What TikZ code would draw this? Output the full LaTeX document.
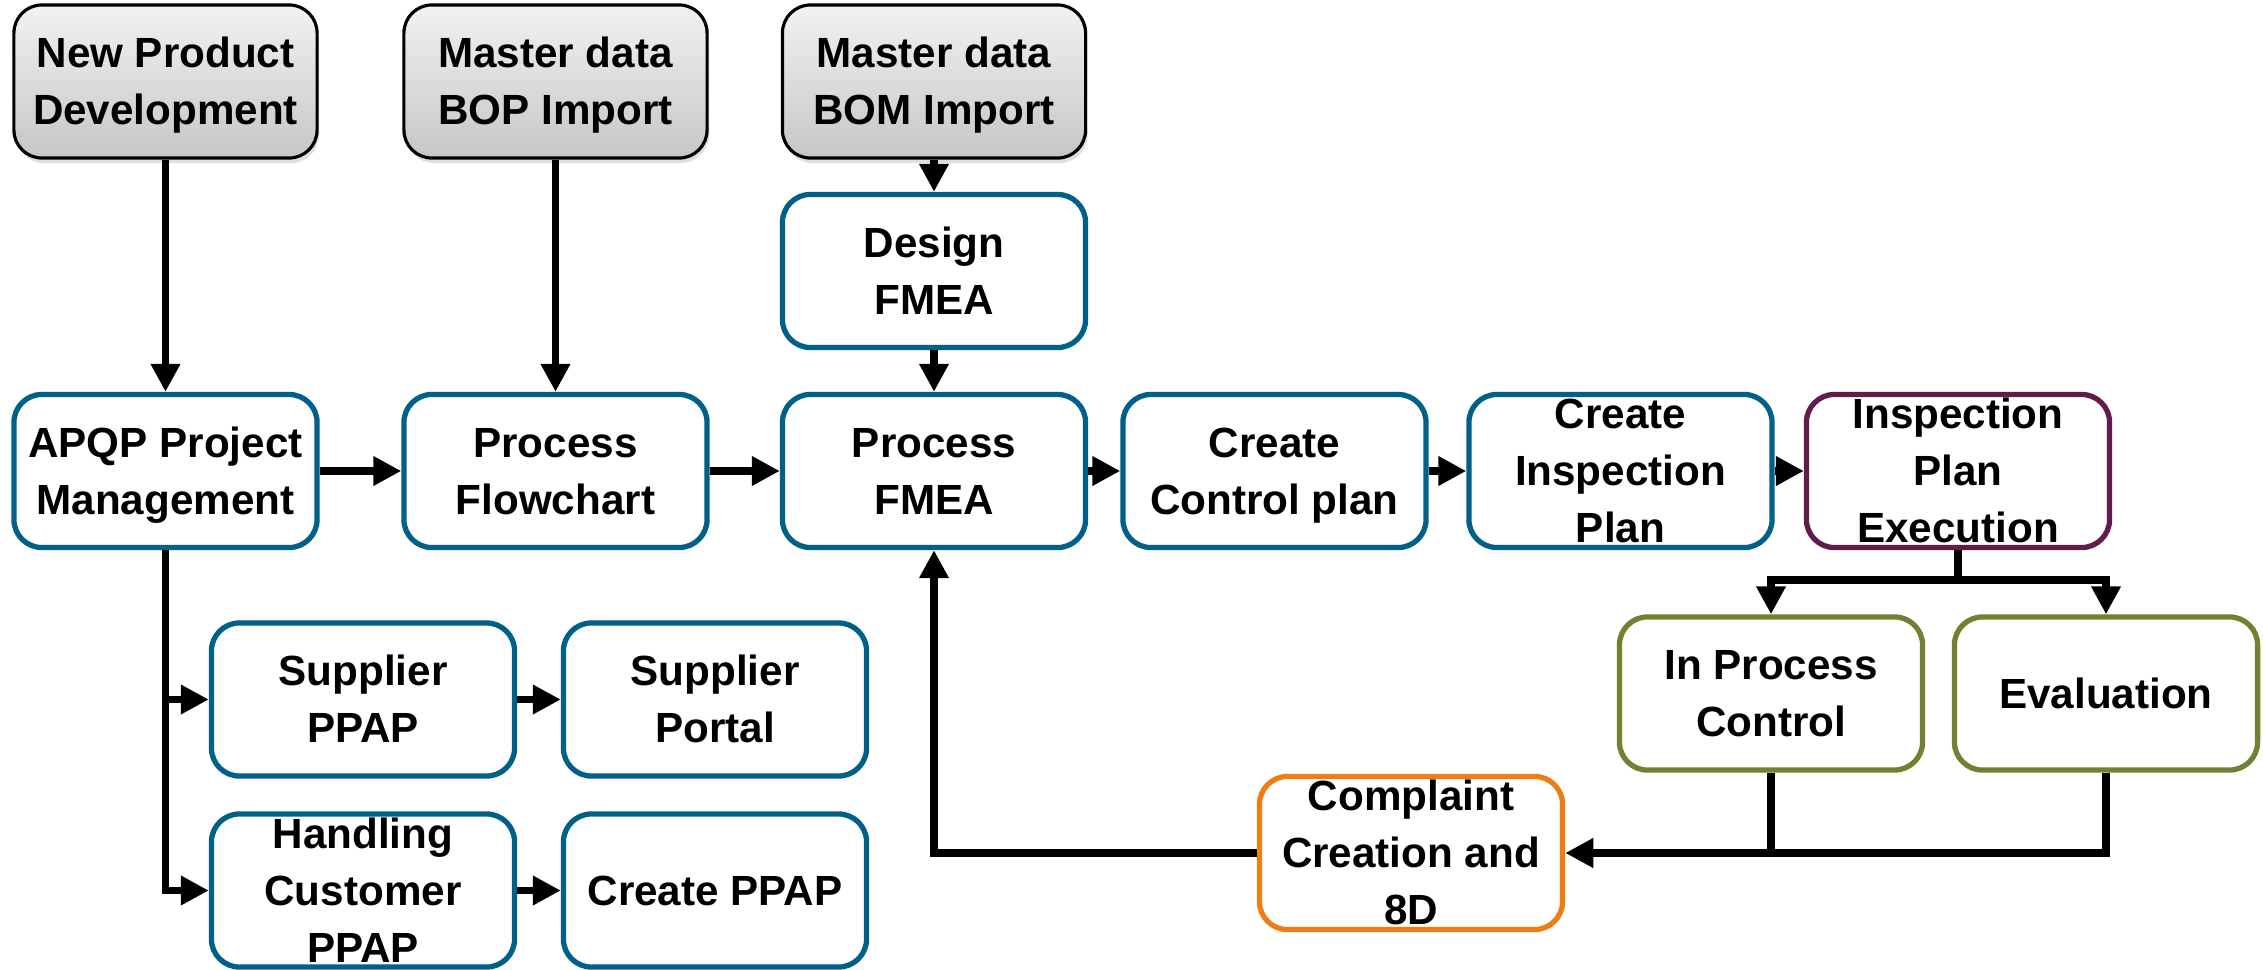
\documentclass[tikz,border=0pt]{standalone}
\usepackage{fontspec}
\setmainfont{Liberation Sans}
\usetikzlibrary{arrows.meta,shadows}
\definecolor{boxblue}{RGB}{0,96,135}
\definecolor{boxpurple}{RGB}{96,28,74}
\definecolor{boxgreen}{RGB}{110,130,50}
\definecolor{boxorange}{RGB}{238,125,22}
% line strut with the full ascent and descent of the font
\newcommand\linestrut{\rule[-0.212em]{0pt}{1.117em}}
\begin{document}
\begin{tikzpicture}[x=0.01cm,y=-0.01cm,
  box/.style={draw=boxblue, line width=1.5pt, rounded corners=0.28cm, fill=white,
    minimum width=3.03cm, minimum height=1.53cm, inner sep=0pt},
  srcbox/.style={box, draw=black, line width=0.9pt, top color=gray!10, bottom color=gray!45,
    drop shadow={opacity=0.25, shadow xshift=0.02cm, shadow yshift=-0.05cm}},
  txt/.style={inner sep=0pt, align=center, font=\fontsize{12}{16.2}\selectfont\bfseries,
    execute at end node=\linestrut},
  arr/.style={line width=2.25pt, -{Triangle[length=0.28cm,width=0.28cm]}},
  link/.style={line width=2.25pt}
]
\useasboundingbox (0,0) rectangle (2263,970);

% input sources
\node[srcbox] (npd) at (165.5,81.5) {};
\node[srcbox] (bop) at (555.5,81.5) {};
\node[srcbox] (bom) at (934,81.5) {};

% main process row
\node[box] (dfmea) at (934,271) {};
\node[box] (apqp) at (165.5,471) {};
\node[box] (flow) at (555.5,471) {};
\node[box] (pfmea) at (934,471) {};
\node[box] (ctrl) at (1274.5,471) {};
\node[box] (insp) at (1620.5,471) {};
\node[box, draw=boxpurple] (exec) at (1958,471) {};

% PPAP branch
\node[box] (spp) at (363,699.5) {};
\node[box] (portal) at (715,699.5) {};
\node[box] (hcp) at (363,890.5) {};
\node[box] (cppap) at (715,890.5) {};

% control and feedback
\node[box, draw=boxgreen] (ipc) at (1771,693.5) {};
\node[box, draw=boxgreen] (eval) at (2106,693.5) {};
\node[box, draw=boxorange] (comp) at (1411,853) {};

% box labels
\node[txt] (npd-t) at (npd) {\linestrut New Product\\Development};
\node[txt] (bop-t) at (bop) {\linestrut Master data\\BOP Import};
\node[txt] (bom-t) at (bom) {\linestrut Master data\\BOM Import};
\node[txt] (dfmea-t) at (dfmea) {\linestrut Design\\FMEA};
\node[txt] (apqp-t) at (apqp) {\linestrut APQP Project\\Management};
\node[txt] (flow-t) at (flow) {\linestrut Process\\Flowchart};
\node[txt] (pfmea-t) at (pfmea) {\linestrut Process\\FMEA};
\node[txt] (ctrl-t) at (ctrl) {\linestrut Create\\Control plan};
\node[txt] (insp-t) at (insp) {\linestrut Create\\Inspection\\Plan};
\node[txt] (exec-t) at (exec) {\linestrut Inspection\\Plan\\Execution};
\node[txt] (spp-t) at (spp) {\linestrut Supplier\\PPAP};
\node[txt] (portal-t) at (portal) {\linestrut Supplier\\Portal};
\node[txt] (hcp-t) at (hcp) {\linestrut Handling\\Customer\\PPAP};
\node[txt] (cppap-t) at (cppap) {\linestrut Create PPAP};
\node[txt] (ipc-t) at (ipc) {\linestrut In Process\\Control};
\node[txt] (eval-t) at (eval) {\linestrut Evaluation};
\node[txt] (comp-t) at (comp) {\linestrut Complaint\\Creation and\\8D};

% connectors
\draw[arr] (npd) -- (apqp);
\draw[arr] (bop) -- (flow);
\draw[arr] (bom) -- (dfmea);
\draw[arr] (dfmea) -- (pfmea);
\draw[arr] (apqp) -- (flow);
\draw[arr] (flow) -- (pfmea);
\draw[arr] (pfmea) -- (ctrl);
\draw[arr] (ctrl) -- (insp);
\draw[arr] (insp) -- (exec);

\draw[arr] (apqp.south) |- (hcp.west);
\draw[arr] (apqp.south |- spp.west) -- (spp.west);
\draw[arr] (spp) -- (portal);
\draw[arr] (hcp) -- (cppap);

\coordinate (split) at (1958,580);
\draw[link] (exec.south) -- (split);
\draw[arr] (split) -| (ipc.north);
\draw[arr] (split) -| (eval.north);

\draw[arr] (eval.south) |- (comp.east);
\draw[link] (ipc.south) -- (ipc.south |- comp.east);
\draw[arr] (comp.west) -| (pfmea.south);
\end{tikzpicture}
\end{document}
